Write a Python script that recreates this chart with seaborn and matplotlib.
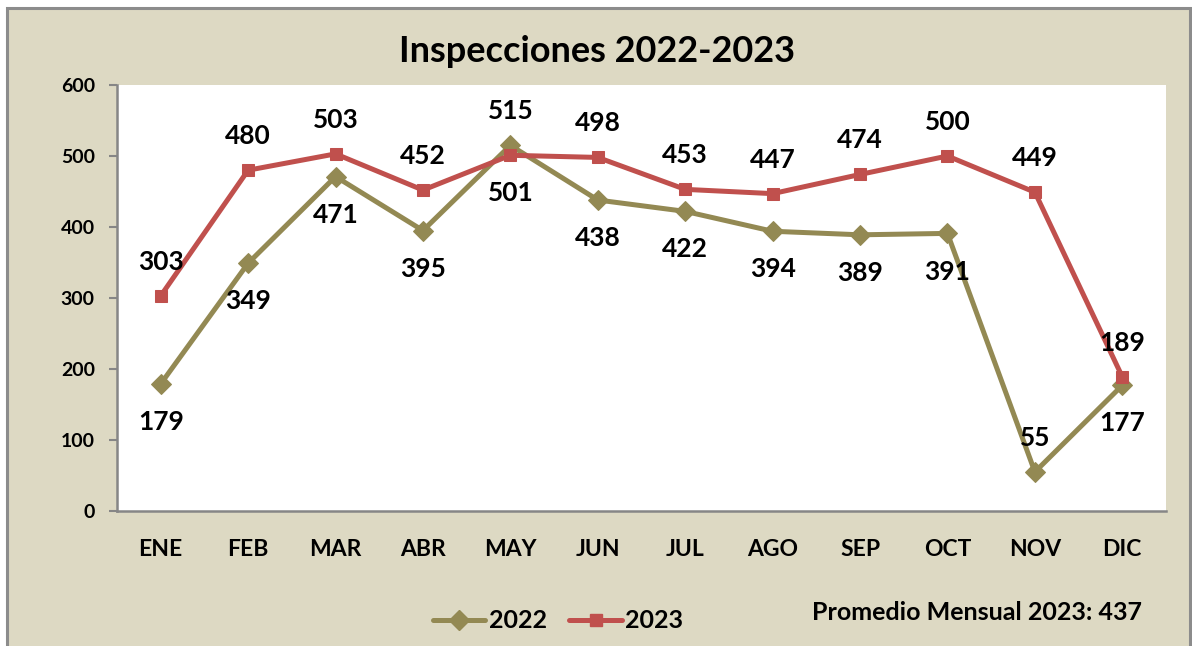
import numpy as np
import pandas as pd
import matplotlib
matplotlib.use("Agg")
import matplotlib.pyplot as plt
from matplotlib.patches import Rectangle
from matplotlib.lines import Line2D
import seaborn as sns

# Monthly inspection counts
months = ["ENE", "FEB", "MAR", "ABR", "MAY", "JUN", "JUL", "AGO", "SEP", "OCT", "NOV", "DIC"]
insp_2022 = [179, 349, 471, 395, 515, 438, 422, 394, 389, 391, 55, 177]
insp_2023 = [303, 480, 503, 452, 501, 498, 453, 447, 474, 500, 449, 189]
y_ticks = [0, 100, 200, 300, 400, 500, 600]

# Where each value label sits relative to its marker
place_2022 = ["below", "below", "below", "below", "above", "below",
              "below", "below", "below", "below", "above", "below"]
place_2023 = ["above", "above", "above", "above", "below", "above",
              "above", "above", "above", "above", "above", "above"]

C22 = "#938953"
C23 = "#C0504D"
BG = "#DDD9C3"
AXC = "#868686"
FONT = ["Lato", "DejaVu Sans"]

sns.set_theme(style="white")
plt.rcParams["font.family"] = FONT
plt.rcParams["font.weight"] = "bold"
plt.rcParams["text.color"] = "black"
plt.rcParams["xtick.color"] = "black"
plt.rcParams["ytick.color"] = "black"

df = pd.DataFrame({
    "pos": np.tile(np.arange(len(months)), 2),
    "mes": months * 2,
    "valor": insp_2022 + insp_2023,
    "anio": ["2022"] * len(months) + ["2023"] * len(months),
})

fig = plt.figure(figsize=(11.92, 6.46), dpi=100)
fig.patch.set_facecolor("white")

# beige chart area with a grey frame, kept behind the axes
fig.patches.append(Rectangle((7 / 1192, -0.05), (1190 - 7) / 1192, 1.05 - 8 / 646,
                             transform=fig.transFigure, facecolor=BG,
                             edgecolor="#8C8C8C", linewidth=2.2, zorder=-10))

ax = fig.add_axes([117 / 1192, 1 - 511 / 646, (1166 - 117) / 1192, (511 - 85) / 646])
ax.set_zorder(1)
ax.set_facecolor("white")

sns.lineplot(data=df[df.anio == "2022"], x="pos", y="valor", ax=ax, color=C22,
             linewidth=3.6, marker="D", markersize=10, markeredgecolor=C22,
             legend=False, zorder=3)
sns.lineplot(data=df[df.anio == "2023"], x="pos", y="valor", ax=ax, color=C23,
             linewidth=3.6, marker="s", markersize=9, markeredgecolor=C23,
             legend=False, zorder=4)

def add_labels(values, places):
    for i, (v, p) in enumerate(zip(values, places)):
        dy = 26 if p == "above" else -26
        ax.annotate(f"{v}", (i, v), xytext=(0, dy), textcoords="offset points",
                    ha="center", va="center_baseline", fontsize=19, fontweight="bold",
                    color="black", zorder=5)

add_labels(insp_2022, place_2022)
add_labels(insp_2023, place_2023)

ax.set_xlim(-0.5, len(months) - 0.5)
ax.set_ylim(0, 600)
ax.set_yticks(y_ticks)
ax.set_yticklabels([str(t) for t in y_ticks], fontsize=14, fontweight="bold")
ax.set_xticks(np.arange(len(months)))
ax.set_xticklabels(months, fontsize=16.5, fontweight="bold")
ax.set_xticks(np.arange(len(months) + 1) - 0.5, minor=True)
ax.tick_params(axis="x", which="major", length=0, pad=20)
ax.tick_params(axis="x", which="minor", length=6, width=1.5, color=AXC, direction="out")
ax.tick_params(axis="y", length=6, width=1.5, color=AXC, direction="out", pad=10, left=True)
ax.set_xlabel("")
ax.set_ylabel("")
for s in ["top", "right"]:
    ax.spines[s].set_visible(False)
for s in ["left", "bottom"]:
    ax.spines[s].set_color(AXC)
    ax.spines[s].set_linewidth(1.8)

fig.text(597 / 1192, 1 - 52 / 646, "Inspecciones 2022-2023", ha="center", va="center",
         fontsize=26, fontweight="bold", color="black")

handles = [
    Line2D([0], [0], color=C22, linewidth=3.6, marker="D", markersize=10),
    Line2D([0], [0], color=C23, linewidth=3.6, marker="s", markersize=9),
]
fig.legend(handles, ["2022", "2023"], loc="center", bbox_to_anchor=(558 / 1192, 1 - 621 / 646),
           ncol=2, frameon=False, handlelength=2.1, handletextpad=0.15, columnspacing=0.9,
           labelcolor="black", prop={"size": 18, "weight": "bold", "family": FONT})

avg_2023 = np.mean(insp_2023)
fig.text(1142 / 1192, 1 - 612 / 646, f"Promedio Mensual 2023: {avg_2023:.0f}",
         ha="right", va="center", fontsize=18, fontweight="bold", color="black")

fig.savefig("out.png", dpi=100, facecolor=fig.get_facecolor())
